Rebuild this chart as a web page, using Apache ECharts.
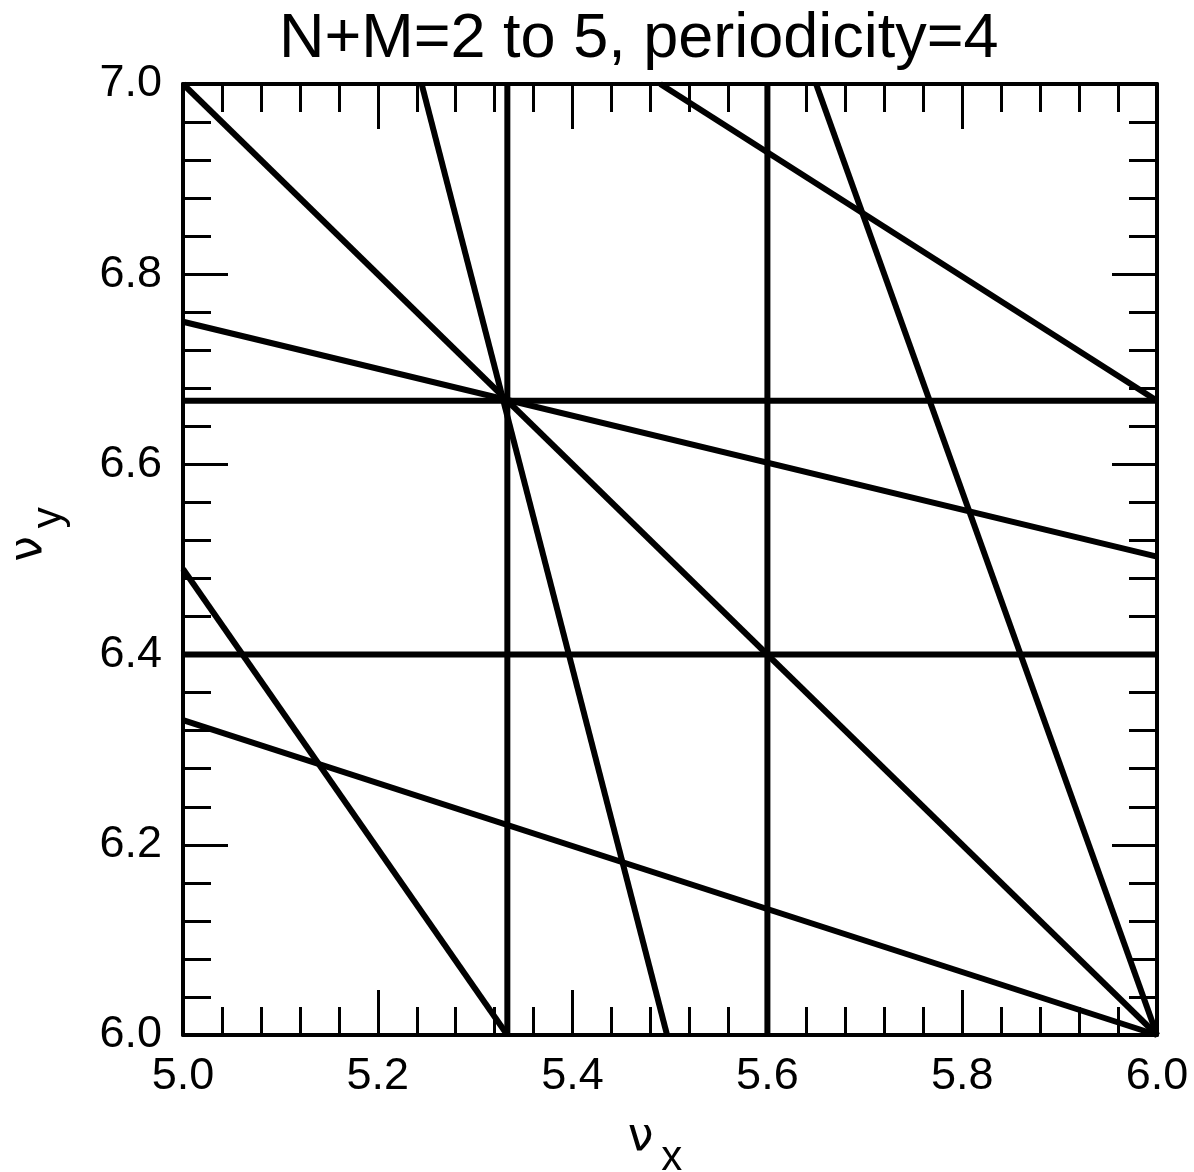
<!DOCTYPE html>
<html><head><meta charset="utf-8">
<script src="https://cdn.jsdelivr.net/npm/echarts@6/dist/echarts.min.js"></script>
<style>html,body{margin:0;padding:0;background:#fff}#c{width:1194px;height:1172px}</style>
</head><body><div id="c"></div>
<script>
// Axis settings
const xRange = [5.0, 6.0];
const yRange = [6.0, 7.0];
const majorStep = 0.2;
const titleText = 'N+M=2 to 5, periodicity=4';

// Resonance lines: each is a pair of end points [nu_x, nu_y]
const lineA = [[5.0, 7.0], [6.0, 6.0]];       // diagonal through (5.333,6.667)
const lineB = [[5.245, 7.0], [5.497, 6.0]];   // steep line through (5.333,6.667)
const lineC = [[5.333, 6.0], [5.333, 7.0]];   // vertical
const lineD = [[5.6, 6.0], [5.6, 7.0]];       // vertical
const lineE = [[5.49, 7.0], [6.0, 6.667]];    // upper right
const lineF = [[5.65, 7.0], [6.0, 6.0]];      // steep right
const lineG = [[5.0, 6.75], [6.0, 6.503]];    // shallow through (5.333,6.667)
const lineH = [[5.0, 6.667], [6.0, 6.667]];   // horizontal
const lineI = [[5.0, 6.4], [6.0, 6.4]];       // horizontal
const lineJ = [[5.0, 6.49], [5.333, 6.0]];    // lower left
const lineK = [[5.0, 6.331], [6.0, 6.0]];     // lower shallow
const allLines = [lineA, lineB, lineC, lineD, lineE, lineF, lineG, lineH, lineI, lineJ, lineK];

const FONT = 'Liberation Sans';
function axisCommon(showLabel) {
  return {
    type: 'value',
    interval: majorStep,
    axisLine: { show: true, onZero: false, lineStyle: { color: '#000', width: 4 } },
    axisTick: { show: true, inside: true, length: 45, lineStyle: { color: '#000', width: 3 } },
    minorTick: { show: true, splitNumber: 5, length: 28, lineStyle: { color: '#000', width: 3 } },
    splitLine: { show: false },
    minorSplitLine: { show: false },
    axisLabel: {
      show: showLabel, color: '#000', fontSize: 45, fontFamily: FONT,
      formatter: v => v.toFixed(1)
    }
  };
}
const nameRich = {
  nu: { fontSize: 46, fontFamily: 'DejaVu Sans', color: '#000' },
  sub: { fontSize: 42, fontFamily: FONT, color: '#000', padding: [40, 0, 0, 8] }
};

const xBottom = Object.assign(axisCommon(true), {
  position: 'bottom', min: xRange[0], max: xRange[1],
  name: '{nu|ν}{sub|x}', nameLocation: 'middle', nameGap: 62,
  nameTextStyle: { rich: nameRich, padding: [0, 30, 0, 0] }
});
xBottom.axisLabel.margin = 19;
const xTop = Object.assign(axisCommon(false), { position: 'top', min: xRange[0], max: xRange[1] });
const yLeft = Object.assign(axisCommon(true), {
  position: 'left', min: yRange[0], max: yRange[1],
  name: '{nu|ν}{sub|y}', nameLocation: 'middle', nameGap: 113, nameRotate: 90,
  nameTextStyle: { rich: nameRich, padding: [0, 0, 0, 50] }
});
yLeft.axisLabel.margin = 21;
const yRight = Object.assign(axisCommon(false), { position: 'right', min: yRange[0], max: yRange[1] });

const chart = echarts.init(document.getElementById('c'), null, { renderer: 'canvas' });
chart.setOption({
  animation: false,
  backgroundColor: '#fff',
  title: {
    text: titleText, left: 274, top: 3,
    textStyle: { fontSize: 63, fontWeight: 'normal', color: '#000', fontFamily: FONT }
  },
  grid: { left: 183, right: 37, top: 84, bottom: 137, containLabel: false, outerBoundsMode: 'none' },
  xAxis: [xBottom, xTop],
  yAxis: [yLeft, yRight],
  series: allLines.map((pts, i) => ({
    type: 'line', name: 'res' + i, xAxisIndex: 0, yAxisIndex: 0,
    data: pts, showSymbol: false, symbol: 'none', silent: true,
    lineStyle: { color: '#000', width: 6 }, clip: true
  }))
});
</script></body></html>
